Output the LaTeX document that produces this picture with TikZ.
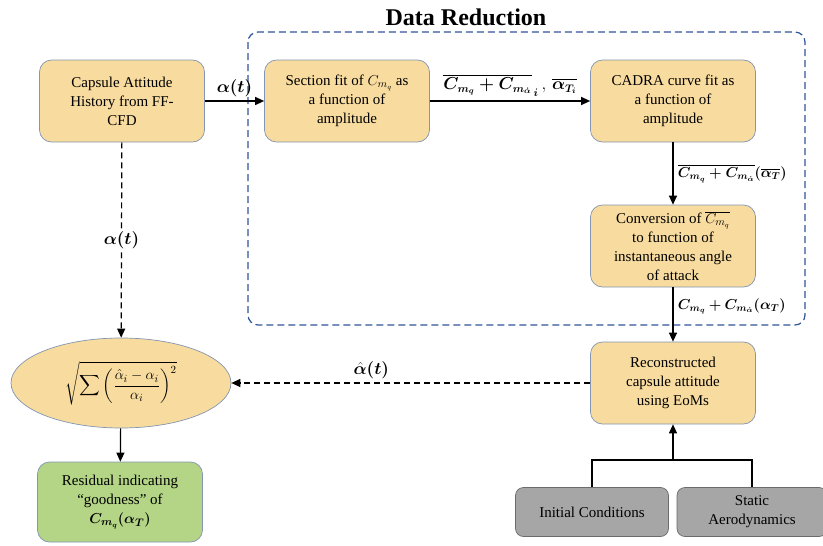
\documentclass[tikz,border=0pt]{standalone}
\usepackage{amsmath}
\usepackage{bm}
\usepackage{fontspec}
\setmainfont{Liberation Serif}
\usepackage{xcolor}
\usepackage{tikz}
\usetikzlibrary{arrows.meta,shapes.geometric}
\definecolor{drsand}{HTML}{F8DC9F}
\definecolor{drrim}{HTML}{8295B2}
\definecolor{drleaf}{HTML}{B3D585}
\definecolor{drash}{HTML}{A6A6A6}
\definecolor{drslate}{HTML}{6B6B6B}
\definecolor{drnavy}{HTML}{2F5597}
\tikzset{
  drbox/.style={draw=drrim, fill=drsand, line width=0.7pt, rounded corners=12pt,
    minimum width=165pt, minimum height=82pt, align=center,
    font=\fontsize{15}{19}\selectfont},
  drleafbox/.style={drbox, fill=drleaf},
  drashbox/.style={drbox, fill=drash, draw=drslate, minimum width=153pt,
    minimum height=49pt, rounded corners=8pt},
  drdisc/.style={ellipse, draw=drrim, fill=drsand, line width=0.7pt,
    minimum width=220pt, minimum height=90pt, inner sep=0pt},
  drflow/.style={line width=1.2pt, draw=black, -{Triangle[length=9pt,width=8pt]}},
  drguess/.style={drflow, dash pattern=on 6pt off 4pt},
  drframe/.style={draw=drnavy, line width=1.2pt, dash pattern=on 7pt off 4pt,
    rounded corners=10pt},
  drtag/.style={font=\fontsize{16}{18}\selectfont},
  drsidetag/.style={font=\fontsize{14.5}{17}\selectfont, right=1pt},
}

\begin{document}
\begin{tikzpicture}[x=1pt,y=-1pt]
\useasboundingbox (0,0) rectangle (823,546);
\draw[drframe] (248,32) rectangle (805,325);
\node[font=\fontsize{24}{28}\selectfont\bfseries] (title) at (466,17) {Data Reduction};

\node[drbox] (capsule) at (122,101) {Capsule Attitude\\History from FF-\\CFD};
\node[drbox] (section) at (347,101) {Section fit of $C_{m_q}$ as\\a function of\\amplitude};
\node[drbox] (cadra) at (673,101) {CADRA curve fit as\\a function of\\amplitude};
\node[drbox] (convert) at (673,246) {Conversion of $\overline{C_{m_q}}$\\to function of\\instantaneous angle\\of attack};
\node[drbox] (rebuild) at (673,383) {Reconstructed\\capsule attitude\\using EoMs};
\node[drdisc] (norm) at (121,383)
  {\fontsize{15}{18}\selectfont$\displaystyle\sqrt{\sum\left(\frac{\hat{\alpha}_i-\alpha_i}{\alpha_i}\right)^{2}}$};
\node[drleafbox, minimum height=80pt] (resid) at (120,502)
  {Residual indicating\\``goodness'' of\\$\bm{C_{m_q}(\alpha_T)}$};
\node[drashbox] (initc) at (592,512) {Initial Conditions};
\node[drashbox, minimum width=150pt] (statc) at (752,512) {Static\\Aerodynamics};

\coordinate (joint) at (673,460);

\draw[drflow] (capsule) -- node[drtag, above] {$\bm{\alpha(t)}$} (section);
\draw[drflow] (section) -- node[drtag, above=1pt]
  {$\bm{\overline{C_{m_q}+C_{m_{\dot{\alpha}}}}_{\,i}}\,,\,\bm{\overline{\alpha_{T_i}}}$} (cadra);
\draw[drflow] (cadra) -- node[drsidetag]
  {$\bm{\overline{C_{m_q}+C_{m_{\dot{\alpha}}}}(\overline{\alpha_T})}$} (convert);
\draw[drflow] (convert) -- node[drsidetag, pos=0.35]
  {$\bm{C_{m_q}+C_{m_{\dot{\alpha}}}(\alpha_T)}$} (rebuild);
\draw[drguess] (capsule) -- node[drtag, fill=white, inner sep=2pt] {$\bm{\alpha(t)}$} (norm);
\draw[drguess] (rebuild) -- node[drtag, above, pos=0.61] {$\hat{\bm{\alpha}}\bm{(t)}$} (norm);
\draw[drflow] (norm) -- (resid);
\draw[line width=1.2pt] (initc.north) |- (joint) -| (statc.north);
\draw[drflow] (joint) -- (rebuild);
\end{tikzpicture}
\end{document}
